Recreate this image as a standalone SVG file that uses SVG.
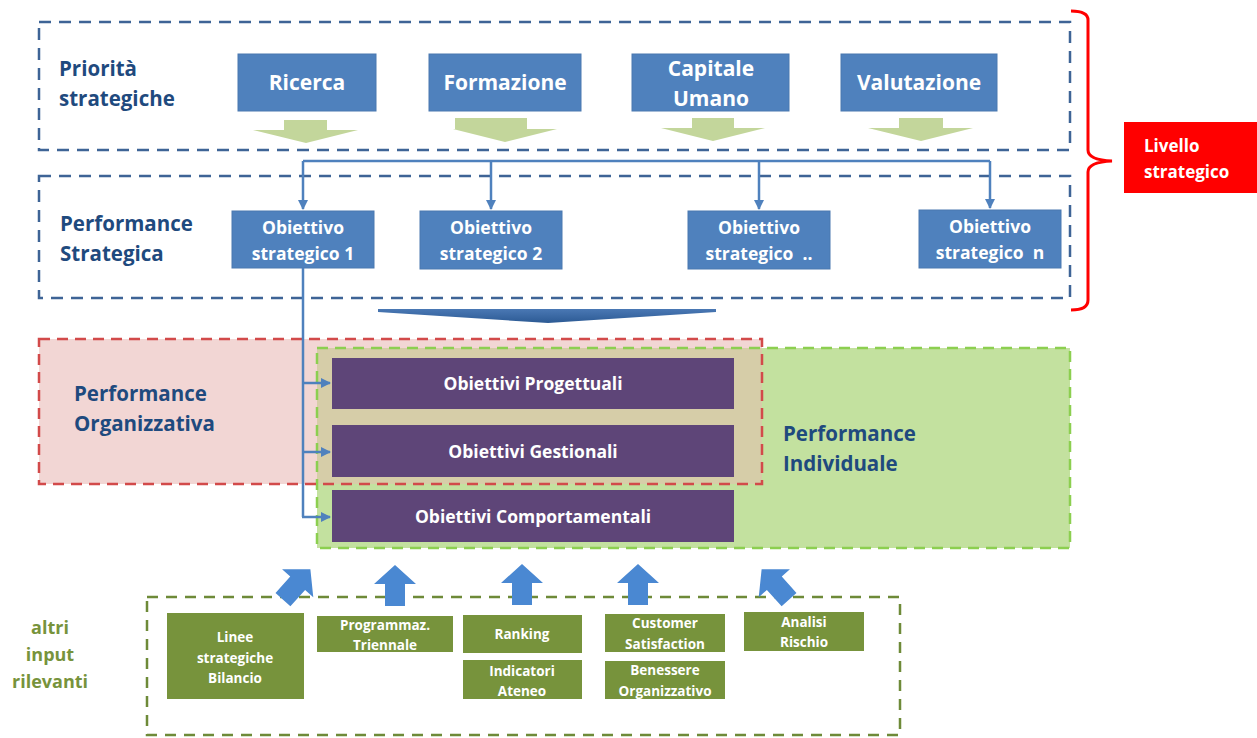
<svg xmlns="http://www.w3.org/2000/svg" width="1257" height="738" viewBox="0 0 1257 738">
  <style>
    .lbl { font-family: "Open Sans", Lato, sans-serif; font-weight: bold; }
    .blueDash { fill: none; stroke: #3e6496; stroke-width: 2.5; stroke-dasharray: 12 8; }
    .prio { fill: #4f81bd; stroke: #4a78b0; stroke-width: 1; }
    .prioTxt { fill: #ffffff; font-size: 21px; text-anchor: middle; }
    .obTxt { fill: #ffffff; font-size: 17.5px; text-anchor: middle; }
    .side { fill: #1f4a7e; font-size: 20.5px; }
    .purple { fill: #5e4578; }
    .purTxt { fill: #ffffff; font-size: 17.5px; text-anchor: middle; }
    .olive { fill: #77933c; }
    .olTxt { fill: #ffffff; font-size: 13.5px; text-anchor: middle; }
    .conn { fill: none; stroke: #4f81bd; stroke-width: 2.5; }
    .down { fill: #c3d69b; }
    .block { fill: #4a88d2; }
  </style>
  <defs>
    <marker id="tri" viewBox="0 0 10 10" refX="9" refY="5" markerWidth="4" markerHeight="4" orient="auto">
      <path d="M0,0 L10,5 L0,10 z" fill="#4f81bd"/>
    </marker>
    <linearGradient id="wide" x1="0" y1="0" x2="0" y2="1">
      <stop offset="0" stop-color="#4a78b4"/>
      <stop offset="1" stop-color="#2c5a94"/>
    </linearGradient>
    <path id="upArrow" d="M0,-20 L21,-1 L10,-1 L10,21 L-10,21 L-10,-1 L-21,-1 z"/>
  </defs>

  <rect width="1257" height="738" fill="#ffffff"/>

  <!-- strategic frames -->
  <g id="frame-priorita">
    <rect class="blueDash" x="39" y="22" width="1031" height="128"/>
    <text class="lbl side" x="59" y="76">Priorità</text>
    <text class="lbl side" x="59" y="106">strategiche</text>
  </g>
  <g id="frame-strategica">
    <rect class="blueDash" x="39" y="176" width="1031" height="122"/>
    <text class="lbl side" x="60" y="231">Performance</text>
    <text class="lbl side" x="60" y="261">Strategica</text>
  </g>

  <!-- priorities -->
  <g id="ricerca">
    <rect class="prio" x="238" y="54" width="138" height="57"/>
    <text class="lbl prioTxt" x="307" y="90">Ricerca</text>
  </g>
  <g id="formazione">
    <rect class="prio" x="429" y="54" width="152" height="57"/>
    <text class="lbl prioTxt" x="505" y="90">Formazione</text>
  </g>
  <g id="capitale-umano">
    <rect class="prio" x="632" y="54" width="157" height="57"/>
    <text class="lbl prioTxt" x="711" y="76">Capitale</text>
    <text class="lbl prioTxt" x="711" y="106">Umano</text>
  </g>
  <g id="valutazione">
    <rect class="prio" x="841" y="54" width="156" height="57"/>
    <text class="lbl prioTxt" x="919" y="90">Valutazione</text>
  </g>

  <!-- green down arrows under priorities -->
  <g id="down-arrows">
    <path class="down" d="M284,120 L327,120 L327,130 L358,130 L306,143 L253,130 L284,130 z"/>
    <path class="down" d="M455,118 L527,118 L527,129 L557,129 L505,142 L453,129 L455,129 z"/>
    <path class="down" d="M692,118 L734,118 L734,128 L765,128 L713,141 L661,128 L692,128 z"/>
    <path class="down" d="M899,118 L943,118 L943,128 L973,128 L921,141 L868,128 L899,128 z"/>
  </g>

  <!-- strategic objectives -->
  <g id="obiettivo-1">
    <rect class="prio" x="232" y="211" width="142" height="57"/>
    <text class="lbl obTxt" x="303" y="234">Obiettivo</text>
    <text class="lbl obTxt" x="303" y="260">strategico 1</text>
  </g>
  <g id="obiettivo-2">
    <rect class="prio" x="420" y="211" width="142" height="58"/>
    <text class="lbl obTxt" x="491" y="234">Obiettivo</text>
    <text class="lbl obTxt" x="491" y="260">strategico 2</text>
  </g>
  <g id="obiettivo-dots">
    <rect class="prio" x="688" y="211" width="142" height="58"/>
    <text class="lbl obTxt" x="759" y="234">Obiettivo</text>
    <text class="lbl obTxt" x="759" y="260" xml:space="preserve">strategico  ..</text>
  </g>
  <g id="obiettivo-n">
    <rect class="prio" x="919" y="210" width="142" height="58"/>
    <text class="lbl obTxt" x="990" y="233">Obiettivo</text>
    <text class="lbl obTxt" x="990" y="259" xml:space="preserve">strategico  n</text>
  </g>

  <!-- wide downward arrow -->
  <g id="wide-arrow">
    <path d="M378,309 L716,309 L716,312 L548,323 L378,312 z" fill="url(#wide)"/>
  </g>

  <!-- bracket and label -->
  <g id="livello-strategico">
    <path d="M1071,11 Q1088,11 1088,20 L1088,150 Q1088,160 1112,161 Q1088,162 1088,172 L1088,300 Q1088,310 1071,310" fill="none" stroke="#ff0000" stroke-width="3"/>
    <rect x="1124" y="122" width="133" height="71" fill="#ff0000"/>
    <text class="lbl" x="1144" y="152" font-size="17" fill="#ffffff">Livello</text>
    <text class="lbl" x="1144" y="178" font-size="17" fill="#ffffff">strategico</text>
  </g>

  <!-- organisational / individual performance areas -->
  <g id="performance-organizzativa">
    <rect x="39" y="339" width="723" height="145" fill="#f2d6d4"/>
  </g>
  <g id="performance-individuale">
    <rect x="317" y="348" width="753" height="200" fill="#c3e19f"/>
    <rect x="317" y="348" width="445" height="136" fill="#d6cda8"/>
    <rect x="317" y="348" width="753" height="200" fill="none" stroke="#8ccf50" stroke-width="2.5" stroke-dasharray="11 7"/>
    <text class="lbl side" x="783" y="441">Performance</text>
    <text class="lbl side" x="783" y="471">Individuale</text>
  </g>
  <g id="performance-organizzativa-edge">
    <rect x="39" y="339" width="723" height="145" fill="none" stroke="#d24a4a" stroke-width="2.5" stroke-dasharray="11 7"/>
    <text class="lbl side" x="74" y="401">Performance</text>
    <text class="lbl side" x="74" y="431">Organizzativa</text>
  </g>

  <!-- objective types -->
  <g id="obiettivi-progettuali">
    <rect class="purple" x="332" y="358" width="402" height="51"/>
    <text class="lbl purTxt" x="533" y="390">Obiettivi Progettuali</text>
  </g>
  <g id="obiettivi-gestionali">
    <rect class="purple" x="332" y="425" width="402" height="52"/>
    <text class="lbl purTxt" x="533" y="458">Obiettivi Gestionali</text>
  </g>
  <g id="obiettivi-comportamentali">
    <rect class="purple" x="332" y="490" width="402" height="52"/>
    <text class="lbl purTxt" x="533" y="523">Obiettivi Comportamentali</text>
  </g>

  <!-- connectors -->
  <g id="connectors">
    <path class="conn" d="M303,161 L990,161"/>
    <path class="conn" d="M303,161 L303,209" marker-end="url(#tri)"/>
    <path class="conn" d="M491,161 L491,209" marker-end="url(#tri)"/>
    <path class="conn" d="M759,161 L759,209" marker-end="url(#tri)"/>
    <path class="conn" d="M990,161 L990,208" marker-end="url(#tri)"/>
    <path class="conn" d="M303,268 L303,517"/>
    <path class="conn" d="M302,383 L330,383" marker-end="url(#tri)"/>
    <path class="conn" d="M302,452 L330,452" marker-end="url(#tri)"/>
    <path class="conn" d="M302,517 L330,517" marker-end="url(#tri)"/>
  </g>

  <!-- other inputs -->
  <g id="altri-input">
    <rect x="147" y="597" width="753" height="138" fill="none" stroke="#6e8a38" stroke-width="2.5" stroke-dasharray="11 8"/>
    <text class="lbl" x="50" y="634" font-size="18" fill="#77933c" text-anchor="middle">altri</text>
    <text class="lbl" x="50" y="661" font-size="18" fill="#77933c" text-anchor="middle">input</text>
    <text class="lbl" x="50" y="688" font-size="18" fill="#77933c" text-anchor="middle">rilevanti</text>
  </g>
  <g id="input-arrows">
    <use href="#upArrow" class="block" transform="translate(297,584) rotate(42)"/>
    <use href="#upArrow" class="block" transform="translate(395,585)"/>
    <use href="#upArrow" class="block" transform="translate(522,584)"/>
    <use href="#upArrow" class="block" transform="translate(638,584)"/>
    <use href="#upArrow" class="block" transform="translate(775,584) rotate(-42)"/>
  </g>
  <g id="linee-strategiche">
    <rect class="olive" x="167" y="613" width="137" height="86"/>
    <text class="lbl olTxt" x="235" y="642">Linee</text>
    <text class="lbl olTxt" x="235" y="663">strategiche</text>
    <text class="lbl olTxt" x="235" y="683">Bilancio</text>
  </g>
  <g id="programmazione">
    <rect class="olive" x="317" y="616" width="136" height="36"/>
    <text class="lbl olTxt" x="385" y="630">Programmaz.</text>
    <text class="lbl olTxt" x="385" y="650">Triennale</text>
  </g>
  <g id="ranking">
    <rect class="olive" x="463" y="615" width="119" height="38"/>
    <text class="lbl olTxt" x="522" y="639">Ranking</text>
  </g>
  <g id="indicatori">
    <rect class="olive" x="463" y="660" width="119" height="39"/>
    <text class="lbl olTxt" x="522" y="676">Indicatori</text>
    <text class="lbl olTxt" x="522" y="696">Ateneo</text>
  </g>
  <g id="customer">
    <rect class="olive" x="605" y="614" width="120" height="38"/>
    <text class="lbl olTxt" x="665" y="628">Customer</text>
    <text class="lbl olTxt" x="665" y="649">Satisfaction</text>
  </g>
  <g id="benessere">
    <rect class="olive" x="605" y="661" width="120" height="38"/>
    <text class="lbl olTxt" x="665" y="675">Benessere</text>
    <text class="lbl olTxt" x="665" y="696">Organizzativo</text>
  </g>
  <g id="analisi-rischio">
    <rect class="olive" x="744" y="612" width="120" height="39"/>
    <text class="lbl olTxt" x="804" y="627">Analisi</text>
    <text class="lbl olTxt" x="804" y="647">Rischio</text>
  </g>
</svg>
